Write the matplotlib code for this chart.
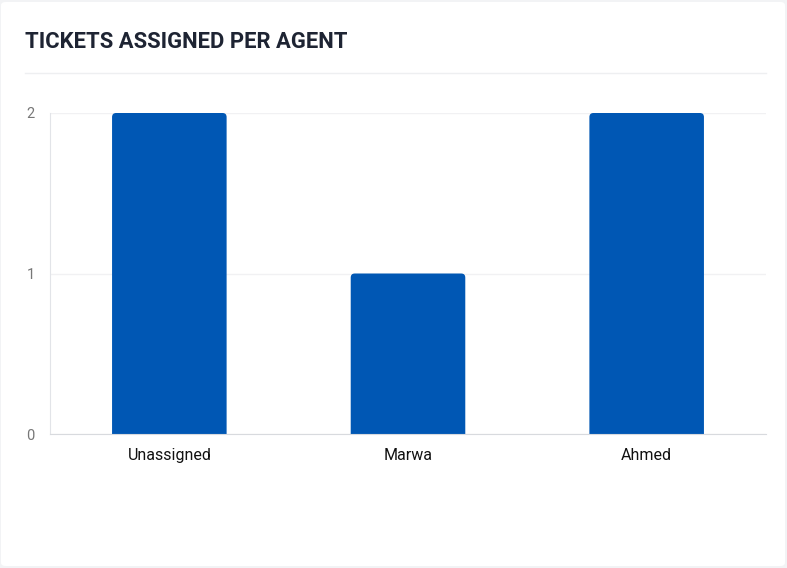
import matplotlib.pyplot as plt
from matplotlib.patches import FancyBboxPatch
from matplotlib.lines import Line2D

agents = ["Unassigned", "Marwa", "Ahmed"]
tickets = [2, 1, 2]
yticks = [0, 1, 2]

W, H = 787, 568
fig = plt.figure(figsize=(W / 100, H / 100), dpi=100)
fig.patch.set_facecolor("#f2f3f5")

# white card behind everything
card = FancyBboxPatch((1 / W, 2 / H), 784 / W, 564 / H,
                      boxstyle="round,pad=0,rounding_size=0.006",
                      transform=fig.transFigure, facecolor="white",
                      edgecolor="none", zorder=-10)
fig.patches.append(card)

fig.text(25 / W, 1 - 42 / H, "TICKETS ASSIGNED PER AGENT", fontsize=15.8,
         fontweight="bold", color="#1e2433", va="center", ha="left",
         family="Roboto")
fig.add_artist(Line2D([25 / W, 766 / W], [1 - 73 / H, 1 - 73 / H],
                      transform=fig.transFigure, color="#eeeff1", lw=1))

ax = fig.add_axes([50 / W, (H - 434) / H, 716 / W, 321 / H])
ax.set_facecolor("none")
x = range(len(agents))
bars = ax.bar(x, tickets, width=0.48, color="#0057b4", zorder=3)
# rounded top corners: swap each bar for a rounded box that dips below 0
for b in bars:
    rb = FancyBboxPatch((b.get_x(), -0.05), b.get_width(), b.get_height() + 0.05,
                        boxstyle="round,pad=0,rounding_size=0.017",
                        mutation_aspect=1.49, facecolor="#0057b4",
                        edgecolor="none", zorder=3)
    ax.add_patch(rb)
    b.set_visible(False)
ax.set_xlim(-0.5, len(agents) - 0.5)
ax.set_ylim(0, 2)
ax.set_yticks(yticks)
ax.set_xticks(list(x))
ax.set_xticklabels(agents, fontsize=11.5, color="#111111", family="Roboto")
ax.tick_params(axis="x", length=0, pad=10)
ax.tick_params(axis="y", length=0, pad=11, labelsize=10.5, labelcolor="#777777")
for t in ax.get_yticklabels():
    t.set_family("Roboto")
ax.grid(axis="y", color="#f1f1f3", lw=1, zorder=0)
for s in ["top", "right"]:
    ax.spines[s].set_visible(False)
ax.spines["left"].set_color("#e2e4e8")
ax.spines["bottom"].set_color("#d8dade")
ax.spines["bottom"].set_zorder(4)

fig.savefig("out.png", dpi=100)
